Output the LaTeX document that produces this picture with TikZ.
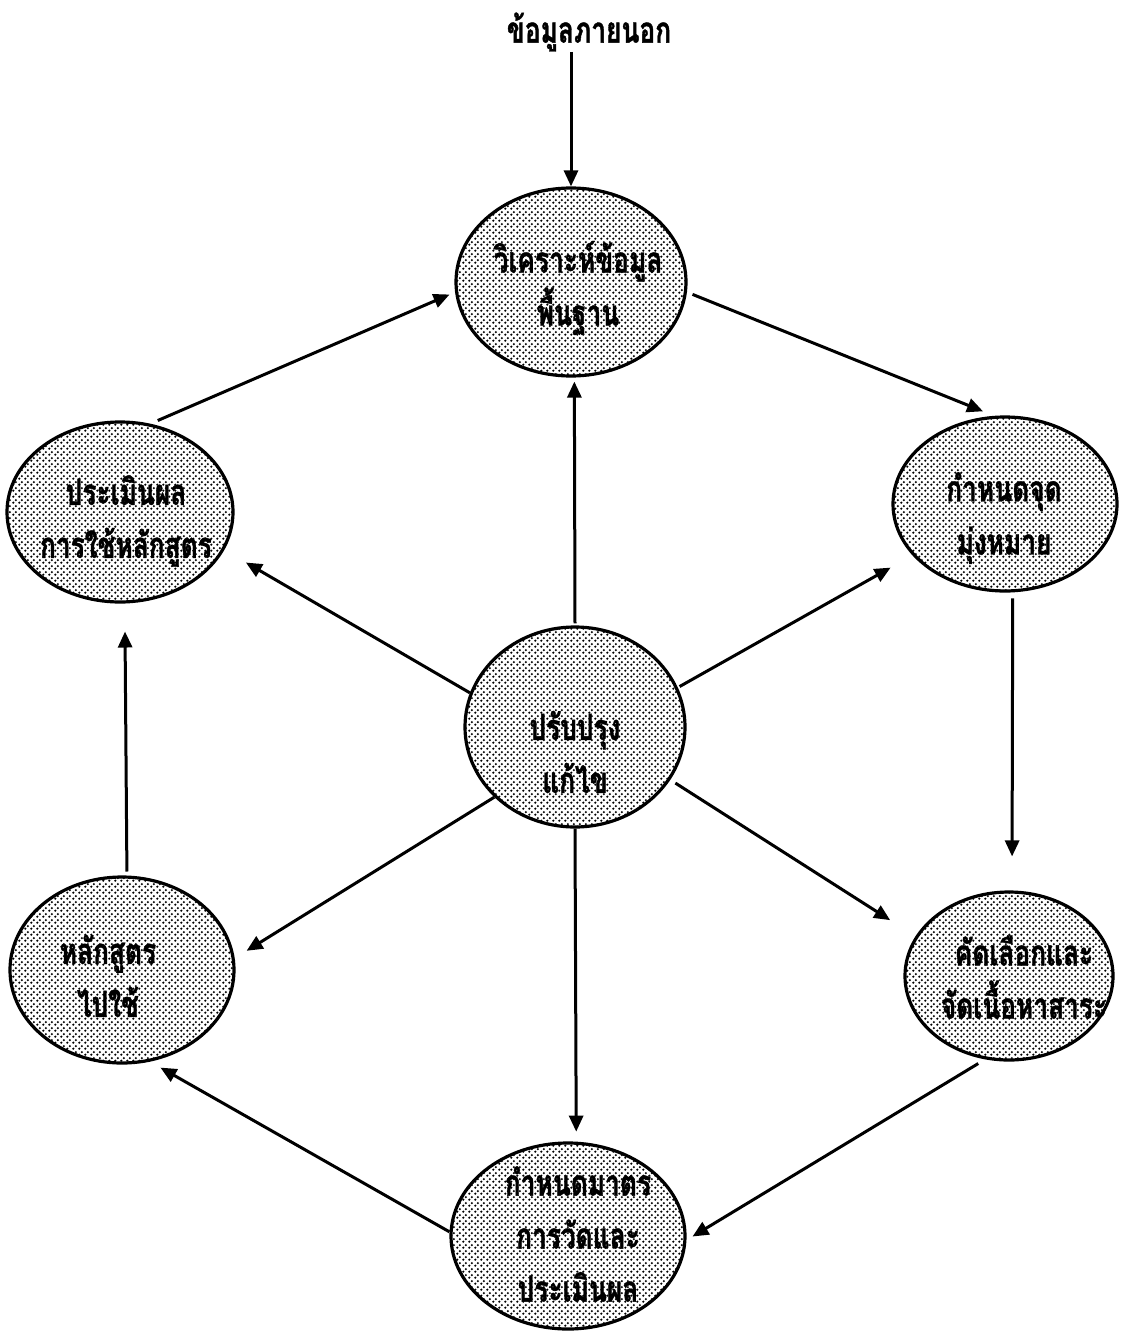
\documentclass[tikz,border=0pt]{standalone}
\usepackage{fontspec}
\newfontfamily\thai[Script=Thai, FakeStretch=0.73, BoldFeatures={FakeBold=1}]{Loma}
\usetikzlibrary{shapes.geometric,arrows.meta,patterns}
\pgfdeclarepatternformonly{mydots}{\pgfqpoint{0pt}{0pt}}{\pgfqpoint{3pt}{3pt}}{\pgfqpoint{3pt}{3pt}}{%
  \pgfpathcircle{\pgfqpoint{0.75pt}{0.75pt}}{0.72pt}%
  \pgfpathcircle{\pgfqpoint{2.25pt}{2.25pt}}{0.72pt}%
  \pgfusepath{fill}%
}
\tikzset{
  blob/.style={ellipse, draw=black, line width=1.6pt, fill=white, pattern=mydots, pattern color=black, inner sep=0pt},
  lbl/.style={font=\thai\bfseries\fontsize{18pt}{26.5pt}\selectfont, align=center, inner sep=0pt},
  arr/.style={line width=1.5pt, -{Triangle[length=8pt,width=7pt]}}
}
\begin{document}
\begin{tikzpicture}[x=0.5pt,y=-0.5pt]
\useasboundingbox (0,0) rectangle (1122,1332);
% ellipses
\node[blob, minimum width=230pt*0.5, minimum height=188pt*0.5] (T) at (571,282) {};
\node[blob, minimum width=220pt*0.5, minimum height=200pt*0.5] (C) at (575,727) {};
\node[blob, minimum width=234pt*0.5, minimum height=186pt*0.5] (B) at (568,1236) {};
\node[blob, minimum width=224pt*0.5, minimum height=174pt*0.5] (RT) at (1005,504) {};
\node[blob, minimum width=208pt*0.5, minimum height=168pt*0.5] (RB) at (1009,976) {};
\node[blob, minimum width=226pt*0.5, minimum height=180pt*0.5] (LT) at (120,512) {};
\node[blob, minimum width=224pt*0.5, minimum height=186pt*0.5] (LB) at (122,970) {};
% labels
\node[lbl] (X) at (589,32) {ข้อมูลภายนอก};
\node[lbl] (Tt) at (578,288) {วิเคราะห์ข้อมูล\\พื้นฐาน};
\node[lbl] (Ct) at (575,752) {ปรับปรุง\\แก้ไข};
\node[lbl] (Bt) at (578,1234) {กำหนดมาตร\\การวัดและ\\ประเมินผล};
\node[lbl] (RTt) at (1004,518) {กำหนดจุด\\มุ่งหมาย};
\node[lbl] (RBt) at (1024,977) {คัดเลือกและ\\จัดเนื้อหาสาระ};
\node[lbl] (LTt) at (126,521) {ประเมินผล\\การใช้หลักสูตร};
\node[lbl] (LBt) at (108,976) {หลักสูตร\\ไปใช้};
% connectors
\draw[arr] (T.north |- X.south) -- (T.north);
\draw[arr, shorten <=3pt, shorten >=6pt] (T.-5) -- (RT.97);
\draw[arr, shorten <=4pt, shorten >=3pt] (LT.71) -- (T.185);
\draw[arr, shorten <=3pt, shorten >=17pt] (RT.-85) -- (RB.88);
\draw[arr, shorten <=4pt, shorten >=3.5pt] (RB.-106) -- (B.-2);
\draw[arr, shorten >=6pt] (B.178) -- (LB.-73);
\draw[arr, shorten <=2pt, shorten >=14pt] (LB.87) -- (LT.-87);
\draw[arr, shorten <=1pt, shorten >=2pt] (C.90) -- (T.-88);
\draw[arr, shorten >=12.5pt] (C.162) -- (LT.-20);
\draw[arr, shorten <=1pt, shorten >=12.5pt] (C.21) -- (RT.209);
\draw[arr, shorten >=7pt] (C.221) -- (LB.6);
\draw[arr, shorten <=3pt, shorten >=15pt] (C.-29) -- (RB.157);
\draw[arr, shorten >=5pt] (C.-90) -- (B.85);
\end{tikzpicture}
\end{document}
